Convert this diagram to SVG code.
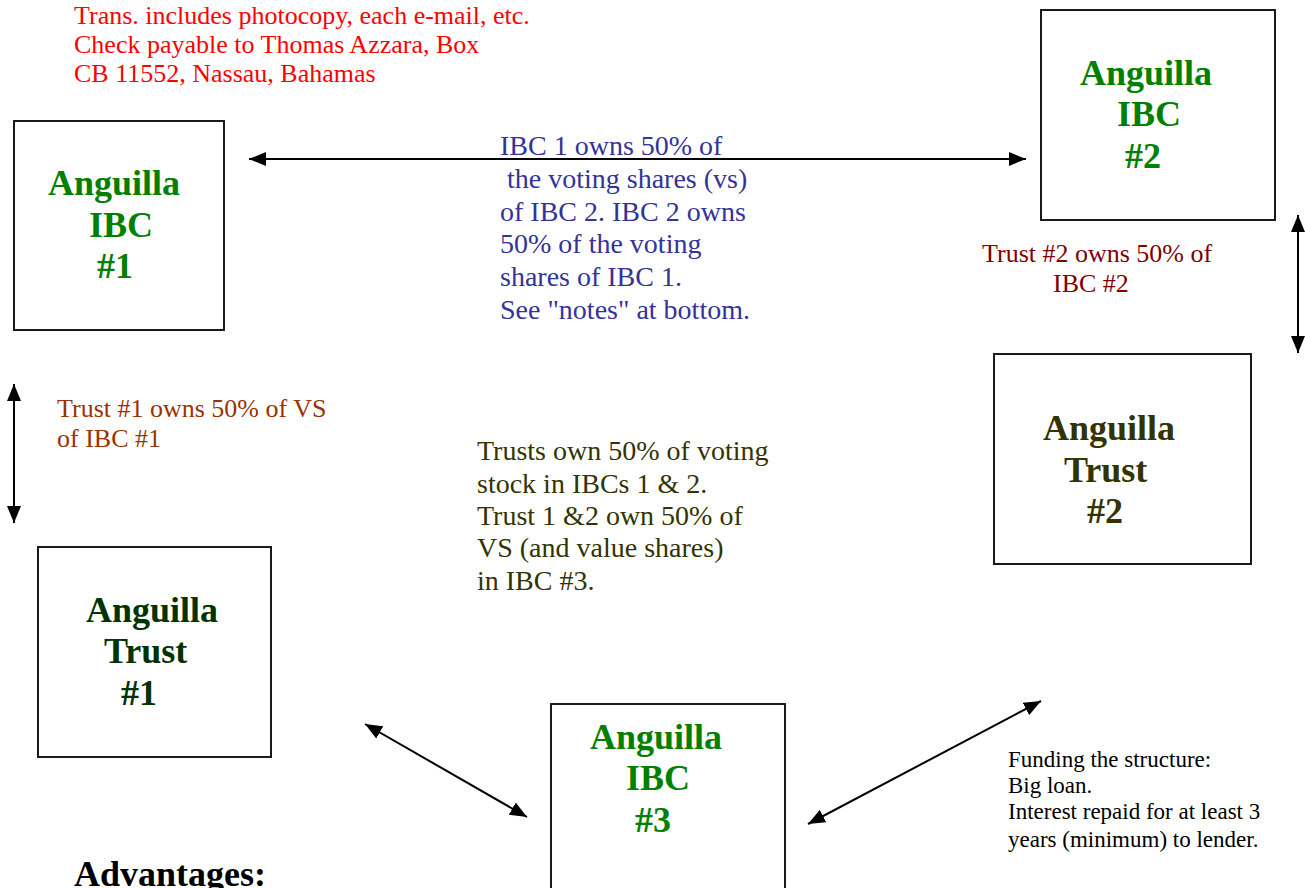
<svg xmlns="http://www.w3.org/2000/svg" width="1305" height="888" viewBox="0 0 1305 888">
<defs>
<style>
text{font-family:"Liberation Serif","Times New Roman",serif}
.box{fill:#fff;stroke:#1a1a1a;stroke-width:2}
.t{font-size:36px;font-weight:bold}
.ibc{fill:#008000}
.tr1{fill:#003300}
.tr2{fill:#333300}
.red{fill:#ff0000;font-size:26px}
.blue{fill:#333399;font-size:28px}
.brown{fill:#993300;font-size:26px}
.maroon{fill:#800000;font-size:26px}
.olive{fill:#333300;font-size:28px}
.blk{fill:#000;font-size:23px}
.conn{stroke:#000;stroke-width:2;fill:none;marker-start:url(#ah);marker-end:url(#ah)}
</style>
<marker id="ah" markerUnits="userSpaceOnUse" markerWidth="18" markerHeight="14" refX="17" refY="7" orient="auto-start-reverse">
<path d="M0,0 L17,7 L0,14 z" fill="#000"/>
</marker>
</defs>
<rect width="1305" height="888" fill="#fff"/>

<g id="note-top">
<text class="red" x="74" y="24">Trans. includes photocopy, each e-mail, etc.</text>
<text class="red" x="74" y="53">Check payable to Thomas Azzara, Box</text>
<text class="red" x="74" y="82">CB 11552, Nassau, Bahamas</text>
</g>

<g id="connectors">
<line class="conn" x1="249" y1="159" x2="1026" y2="159"/>
<line class="conn" x1="1298" y1="215" x2="1298" y2="353"/>
<line class="conn" x1="14" y1="384" x2="14" y2="523"/>
<line class="conn" x1="365" y1="724" x2="527" y2="817"/>
<line class="conn" x1="1041" y1="701" x2="808" y2="824"/>
</g>

<g id="ibc1">
<rect class="box" x="14" y="121" width="210" height="209"/>
<text class="t ibc" x="48" y="195">Anguilla</text>
<text class="t ibc" x="89" y="237">IBC</text>
<text class="t ibc" x="97" y="278">#1</text>
</g>

<g id="ibc2">
<rect class="box" x="1041" y="10" width="234" height="210"/>
<text class="t ibc" x="1080" y="85">Anguilla</text>
<text class="t ibc" x="1117" y="126">IBC</text>
<text class="t ibc" x="1125" y="168">#2</text>
</g>

<g id="trust2">
<rect class="box" x="994" y="354" width="257" height="210"/>
<text class="t tr2" x="1043" y="440">Anguilla</text>
<text class="t tr2" x="1064" y="482">Trust</text>
<text class="t tr2" x="1087" y="523">#2</text>
</g>

<g id="trust1">
<rect class="box" x="38" y="547" width="233" height="210"/>
<text class="t tr1" x="86" y="622">Anguilla</text>
<text class="t tr1" x="104" y="663">Trust</text>
<text class="t tr1" x="121" y="705">#1</text>
</g>

<g id="ibc3">
<rect class="box" x="551" y="704" width="234" height="200"/>
<text class="t ibc" x="590" y="749">Anguilla</text>
<text class="t ibc" x="626" y="790">IBC</text>
<text class="t ibc" x="635" y="832">#3</text>
</g>

<g id="note-ibc">
<text class="blue" x="500" y="155">IBC 1 owns 50% of</text>
<text class="blue" x="507" y="188">the voting shares (vs)</text>
<text class="blue" x="500" y="221">of IBC 2. IBC 2 owns</text>
<text class="blue" x="500" y="253">50% of the voting</text>
<text class="blue" x="500" y="286">shares of IBC 1.</text>
<text class="blue" x="500" y="319">See "notes" at bottom.</text>
</g>

<g id="note-trust2">
<text class="maroon" x="982" y="262">Trust #2 owns 50% of</text>
<text class="maroon" x="1053" y="292">IBC #2</text>
</g>

<g id="note-trust1">
<text class="brown" x="57" y="417">Trust #1 owns 50% of VS</text>
<text class="brown" x="57" y="447">of IBC #1</text>
</g>

<g id="note-trusts">
<text class="olive" x="477" y="460">Trusts own 50% of voting</text>
<text class="olive" x="477" y="493">stock in IBCs 1 &amp; 2.</text>
<text class="olive" x="477" y="525">Trust 1 &amp;2 own 50% of</text>
<text class="olive" x="477" y="557">VS (and value shares)</text>
<text class="olive" x="477" y="590">in IBC #3.</text>
</g>

<g id="note-funding">
<text class="blk" x="1008" y="767">Funding the structure:</text>
<text class="blk" x="1008" y="793">Big loan.</text>
<text class="blk" x="1008" y="819">Interest repaid for at least 3</text>
<text class="blk" x="1008" y="847">years (minimum) to lender.</text>
</g>

<g id="advantages">
<text class="t" x="74" y="886" fill="#000">Advantages:</text>
</g>
</svg>
